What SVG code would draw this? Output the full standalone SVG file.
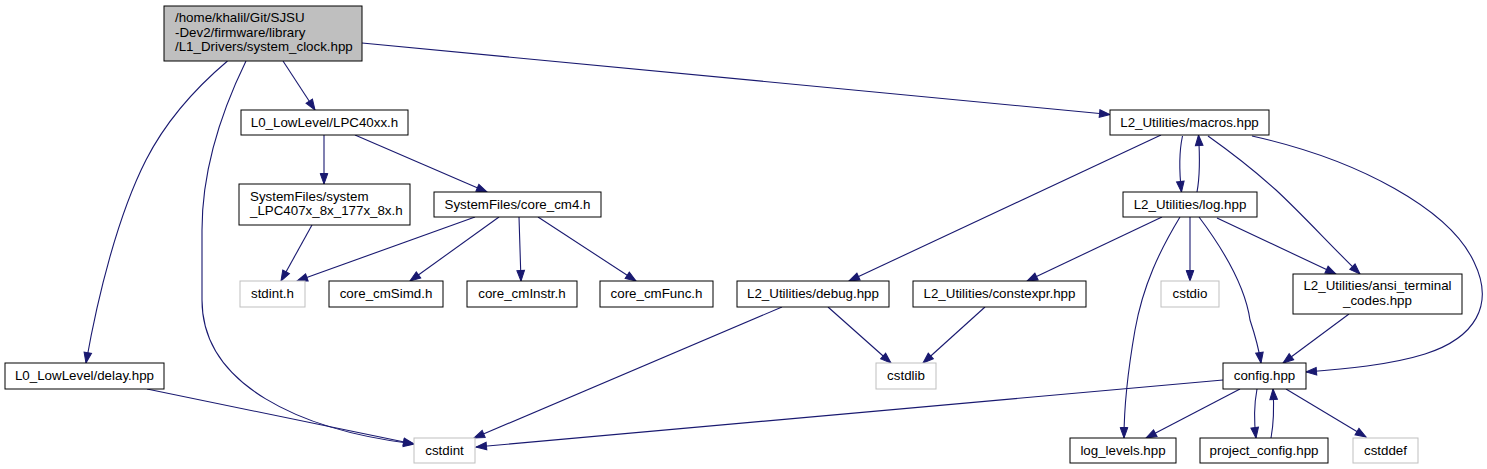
<svg xmlns="http://www.w3.org/2000/svg" width="1487" height="469" viewBox="0 0 1487 469">
<style>
.n rect{fill:#ffffff;stroke:#000000;stroke-width:1}
.n.g rect{stroke:#bfbfbf}
.n.m rect{fill:#bfbfbf}
.n text{font-family:"Liberation Sans",Arial,sans-serif;font-size:13.33px;fill:#000000}
.c{text-anchor:middle}
#edges path{fill:none;stroke:#191970;stroke-width:1.1;marker-end:url(#ah)}
</style>
<defs>
<marker id="ah" markerUnits="userSpaceOnUse" markerWidth="14" markerHeight="11" refX="11.5" refY="5" orient="auto" viewBox="0 0 14 11">
<path d="M1,1.2 L11.5,5 L1,8.8 z" fill="#191970" stroke="#191970" stroke-width="1"/>
</marker>
</defs>
<rect width="1487" height="469" fill="#ffffff"/>
<g id="edges">
<path d="M283,61 L315,110"/>
<path d="M227.5,61 C198,86 168,117 146,160 C118,215 98,295 86,363"/>
<path d="M246,61 C226,102 202,163 202,230 L202,300 C202,385 300,430 414,444"/>
<path d="M362,43 L1110,114.5"/>
<path d="M324,135 L324,184"/>
<path d="M355,135 L487,192"/>
<path d="M312,225 L281,281"/>
<path d="M475,217 L297,281"/>
<path d="M499,217 L410,281"/>
<path d="M519,217 L521,281"/>
<path d="M538,217 L636,281"/>
<path d="M147,389 L414,444"/>
<path d="M1223,380 L476,447"/>
<path d="M782,307 L474,438"/>
<path d="M1161,135 L849,281"/>
<path d="M1182.5,136 C1179,152 1179,170 1181.5,192"/>
<path d="M1197,192 C1200,176 1200,158 1198.5,135"/>
<path d="M1208,136 C1232,153 1256,172 1276,190 C1302,214 1332,247 1360,274"/>
<path d="M1252,136 C1360,160 1450,210 1474,262 C1495,305 1475,338 1425,354 C1390,365 1345,369 1306,372"/>
<path d="M1162,217 L1027,281"/>
<path d="M1180,217 C1160,250 1143,285 1135,330 C1128,370 1124,405 1124,438"/>
<path d="M1190,217 L1190,281"/>
<path d="M1199,217 C1220,245 1245,285 1250,320 C1255,335 1259,350 1261,363"/>
<path d="M1217,218 L1336,274"/>
<path d="M1349,314 L1283,363"/>
<path d="M985,307 L923,363"/>
<path d="M828,307 L891,363"/>
<path d="M1240,389 L1146,438"/>
<path d="M1257,389 C1254,405 1254,422 1256,438"/>
<path d="M1271,438 C1274,422 1274,405 1273,389"/>
<path d="M1286,389 L1366,437"/>
</g>
<g id="node_main" class="n m"><rect x="164" y="6" width="198" height="55"/>
<text x="175" y="22">/home/khalil/Git/SJSU</text>
<text x="175" y="36.5">-Dev2/firmware/library</text>
<text x="175" y="51">/L1_Drivers/system_clock.hpp</text></g>
<g id="node_lpc40xx" class="n"><rect x="241" y="110" width="167" height="25"/><text class="c" x="324.5" y="127">L0_LowLevel/LPC40xx.h</text></g>
<g id="node_system_lpc" class="n"><rect x="239" y="184" width="171" height="41"/>
<text x="250" y="201">SystemFiles/system</text>
<text x="250" y="215">_LPC407x_8x_177x_8x.h</text></g>
<g id="node_core_cm4" class="n"><rect x="434" y="192" width="167" height="25"/><text class="c" x="517.5" y="209">SystemFiles/core_cm4.h</text></g>
<g id="node_stdint" class="n g"><rect x="240" y="281" width="65" height="26"/><text class="c" x="272.5" y="298">stdint.h</text></g>
<g id="node_cmsimd" class="n"><rect x="329" y="281" width="114" height="26"/><text class="c" x="386" y="298">core_cmSimd.h</text></g>
<g id="node_cminstr" class="n"><rect x="467" y="281" width="110" height="26"/><text class="c" x="522" y="298">core_cmInstr.h</text></g>
<g id="node_cmfunc" class="n"><rect x="600" y="281" width="113" height="26"/><text class="c" x="656.5" y="298">core_cmFunc.h</text></g>
<g id="node_debug" class="n"><rect x="737" y="281" width="152" height="26"/><text class="c" x="813" y="298">L2_Utilities/debug.hpp</text></g>
<g id="node_constexpr" class="n"><rect x="913" y="281" width="173" height="26"/><text class="c" x="999.5" y="298">L2_Utilities/constexpr.hpp</text></g>
<g id="node_cstdlib" class="n g"><rect x="876" y="363" width="60" height="26"/><text class="c" x="906" y="380">cstdlib</text></g>
<g id="node_delay" class="n"><rect x="5" y="363" width="159" height="26"/><text class="c" x="84.5" y="380">L0_LowLevel/delay.hpp</text></g>
<g id="node_cstdint" class="n g"><rect x="414" y="438" width="61" height="25"/><text class="c" x="444.5" y="455">cstdint</text></g>
<g id="node_macros" class="n"><rect x="1110" y="110" width="159" height="25"/><text class="c" x="1189.5" y="127">L2_Utilities/macros.hpp</text></g>
<g id="node_log" class="n"><rect x="1123" y="192" width="134" height="25"/><text class="c" x="1190" y="209">L2_Utilities/log.hpp</text></g>
<g id="node_cstdio" class="n g"><rect x="1161" y="281" width="58" height="26"/><text class="c" x="1190" y="298">cstdio</text></g>
<g id="node_ansi" class="n"><rect x="1293" y="274" width="169" height="40"/>
<text class="c" x="1377.5" y="290">L2_Utilities/ansi_terminal</text>
<text class="c" x="1377.5" y="304.5">_codes.hpp</text></g>
<g id="node_config" class="n"><rect x="1223" y="363" width="83" height="26"/><text class="c" x="1264.5" y="380">config.hpp</text></g>
<g id="node_log_levels" class="n"><rect x="1070" y="438" width="106" height="25"/><text class="c" x="1123" y="455">log_levels.hpp</text></g>
<g id="node_project_config" class="n"><rect x="1200" y="438" width="128" height="25"/><text class="c" x="1264" y="455">project_config.hpp</text></g>
<g id="node_cstddef" class="n g"><rect x="1353" y="438" width="65" height="25"/><text class="c" x="1385.5" y="455">cstddef</text></g>
</svg>
